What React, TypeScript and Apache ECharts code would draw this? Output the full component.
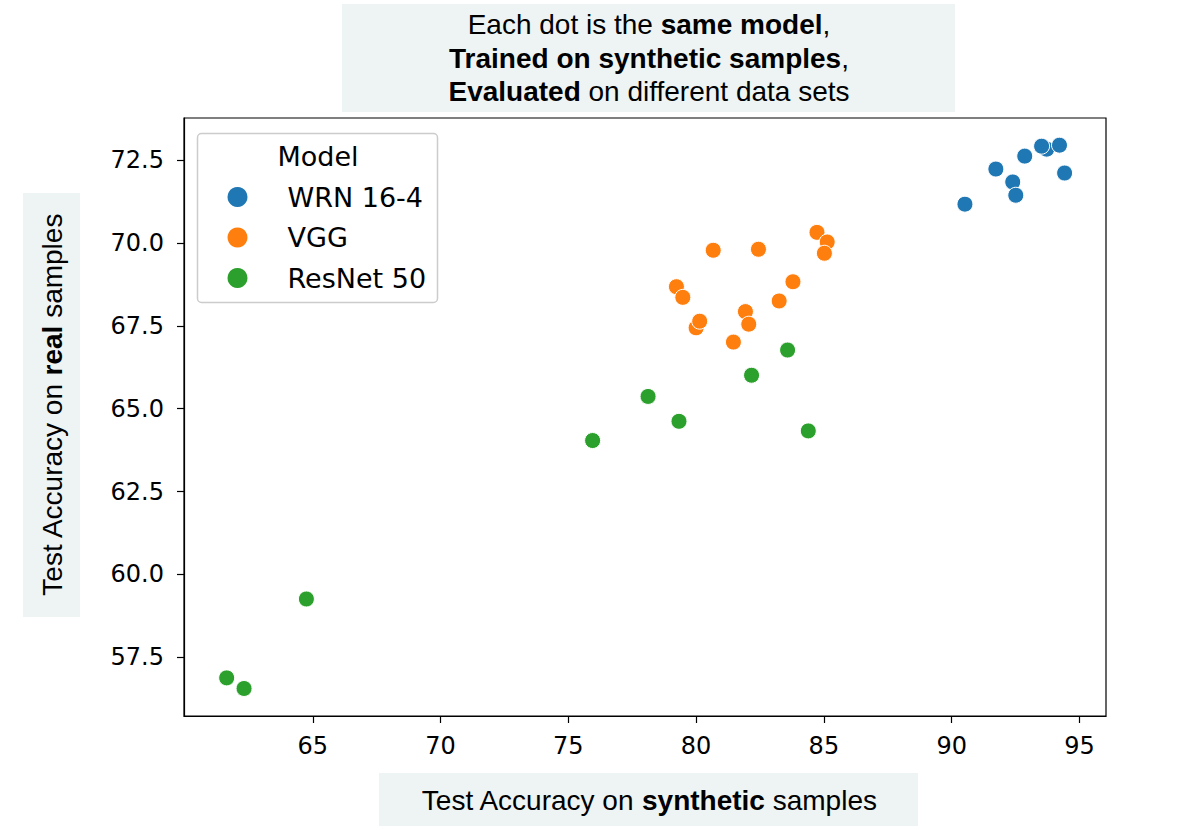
import React, { useEffect, useRef } from "react";
import * as echarts from "echarts";

const seriesNames = ["WRN 16-4", "VGG", "ResNet 50"];
const seriesColors = ["#1f77b4", "#ff7f0e", "#2ca02c"];

const wrnPoints: [number, number][] = [
  [90.52, 71.17], [91.73, 72.23], [92.39, 71.84], [92.51, 71.44], [92.86, 72.62],
  [93.72, 72.83], [93.52, 72.92], [94.22, 72.95], [94.42, 72.11],
];
const vggPoints: [number, number][] = [
  [84.73, 70.32], [85.13, 70.03], [85.02, 69.69], [80.67, 69.78], [82.44, 69.81],
  [83.79, 68.83], [79.23, 68.68], [79.48, 68.36], [83.25, 68.25], [81.93, 67.93],
  [82.06, 67.55], [80.0, 67.44], [80.14, 67.64], [81.46, 67.01],
];
const resnetPoints: [number, number][] = [
  [83.58, 66.77], [82.17, 66.01], [78.12, 65.37], [79.33, 64.62], [84.39, 64.33],
  [75.95, 64.04], [64.75, 59.26], [61.63, 56.88], [62.31, 56.56],
];

const xTicks = [65, 70, 75, 80, 85, 90, 95];
const yTicks = [57.5, 60, 62.5, 65, 67.5, 70, 72.5];

const TEXT_FONT = "Liberation Sans, Arial, sans-serif";
const TICK_FONT = "DejaVu Sans, sans-serif";

export default function App() {
  const ref = useRef<HTMLDivElement>(null);
  useEffect(() => {
    if (!ref.current) return;
    const chart = echarts.init(ref.current, null, { renderer: "svg" });
    const allData = [wrnPoints, vggPoints, resnetPoints];
    const boxColor = "#eef4f4";
    chart.setOption({
      animation: false,
      backgroundColor: "#ffffff",
      grid: {
        left: 184,
        right: 80,
        top: 118,
        bottom: 114,
        show: true,
        borderColor: "#000",
        borderWidth: 1.2,
        backgroundColor: "transparent",
      },
      xAxis: {
        type: "value",
        min: 59.96,
        max: 96.04,
        splitLine: { show: false },
        axisLine: { show: true, onZero: false, lineStyle: { color: "#000", width: 1.2 } },
        axisTick: { show: true, length: 7, customValues: xTicks, lineStyle: { color: "#000", width: 1.2 } },
        axisLabel: {
          customValues: xTicks,
          color: "#000",
          fontFamily: TICK_FONT,
          fontSize: 24,
          margin: 18,
          formatter: (v: number) => String(Math.round(v)),
        },
      },
      yAxis: {
        type: "value",
        min: 55.73,
        max: 73.77,
        splitLine: { show: false },
        axisLine: { show: true, onZero: false, lineStyle: { color: "#000", width: 1.2 } },
        axisTick: { show: true, length: 7, customValues: yTicks, lineStyle: { color: "#000", width: 1.2 } },
        axisLabel: {
          customValues: yTicks,
          color: "#000",
          fontFamily: TICK_FONT,
          fontSize: 24,
          margin: 20,
          formatter: (v: number) => v.toFixed(1),
        },
      },
      legend: {
        orient: "vertical",
        left: 222.5,
        top: 178,
        icon: "circle",
        itemWidth: 20,
        itemHeight: 20,
        itemGap: 12.5,
        data: seriesNames,
        textStyle: { color: "#000", fontFamily: TICK_FONT, fontSize: 27, lineHeight: 28, padding: [0, 0, 0, 35] },
        itemStyle: { borderWidth: 0 },
      },
      graphic: [
        { type: "rect", shape: { x: 342, y: 4, width: 613, height: 108 }, style: { fill: boxColor }, z: 0 },
        {
          type: "text",
          x: 649,
          y: 58,
          style: {
            text: "Each dot is the {b|same model},\n{b|Trained on synthetic samples},\n{b|Evaluated} on different data sets",
            align: "center",
            verticalAlign: "middle",
            fontFamily: TEXT_FONT,
            fontSize: 28,
            lineHeight: 33.5,
            fill: "#000",
            rich: { b: { fontWeight: "bold", fontFamily: TEXT_FONT, fontSize: 28, lineHeight: 33.5, fill: "#000" } },
          },
          z: 1,
        },
        { type: "rect", shape: { x: 23, y: 193, width: 57, height: 424 }, style: { fill: boxColor }, z: 0 },
        {
          type: "text",
          x: 52,
          y: 405,
          rotation: Math.PI / 2,
          style: {
            text: "Test Accuracy on {b|real} samples",
            align: "center",
            verticalAlign: "middle",
            fontFamily: TEXT_FONT,
            fontSize: 28,
            fill: "#000",
            rich: { b: { fontWeight: "bold", fontFamily: TEXT_FONT, fontSize: 28, fill: "#000" } },
          },
          z: 1,
        },
        { type: "rect", shape: { x: 379, y: 773, width: 539, height: 53 }, style: { fill: boxColor }, z: 0 },
        {
          type: "text",
          x: 649,
          y: 800,
          style: {
            text: "Test Accuracy on {b|synthetic} samples",
            align: "center",
            verticalAlign: "middle",
            fontFamily: TEXT_FONT,
            fontSize: 28,
            fill: "#000",
            rich: { b: { fontWeight: "bold", fontFamily: TEXT_FONT, fontSize: 28, fill: "#000" } },
          },
          z: 1,
        },
        {
          type: "rect",
          shape: { x: 197.5, y: 133.5, width: 240, height: 169, r: 4 },
          style: { fill: "rgba(255,255,255,0.85)", stroke: "#cccccc", lineWidth: 1.5 },
          z: 3,
        },
        {
          type: "text",
          x: 318,
          y: 156,
          style: { text: "Model", align: "center", verticalAlign: "middle", fontFamily: TICK_FONT, fontSize: 27, fill: "#000" },
          z: 4,
        },
      ],
      series: seriesNames.map((name, i) => ({
        name,
        type: "scatter",
        data: allData[i],
        symbolSize: 16,
        itemStyle: { color: seriesColors[i], borderColor: "#ffffff", borderWidth: 1, opacity: 1 },
        emphasis: { disabled: true },
      })),
    });
    return () => chart.dispose();
  }, []);
  return <div ref={ref} style={{ width: 1186, height: 830, position: "absolute", left: 0, top: 0 }} />;
}
